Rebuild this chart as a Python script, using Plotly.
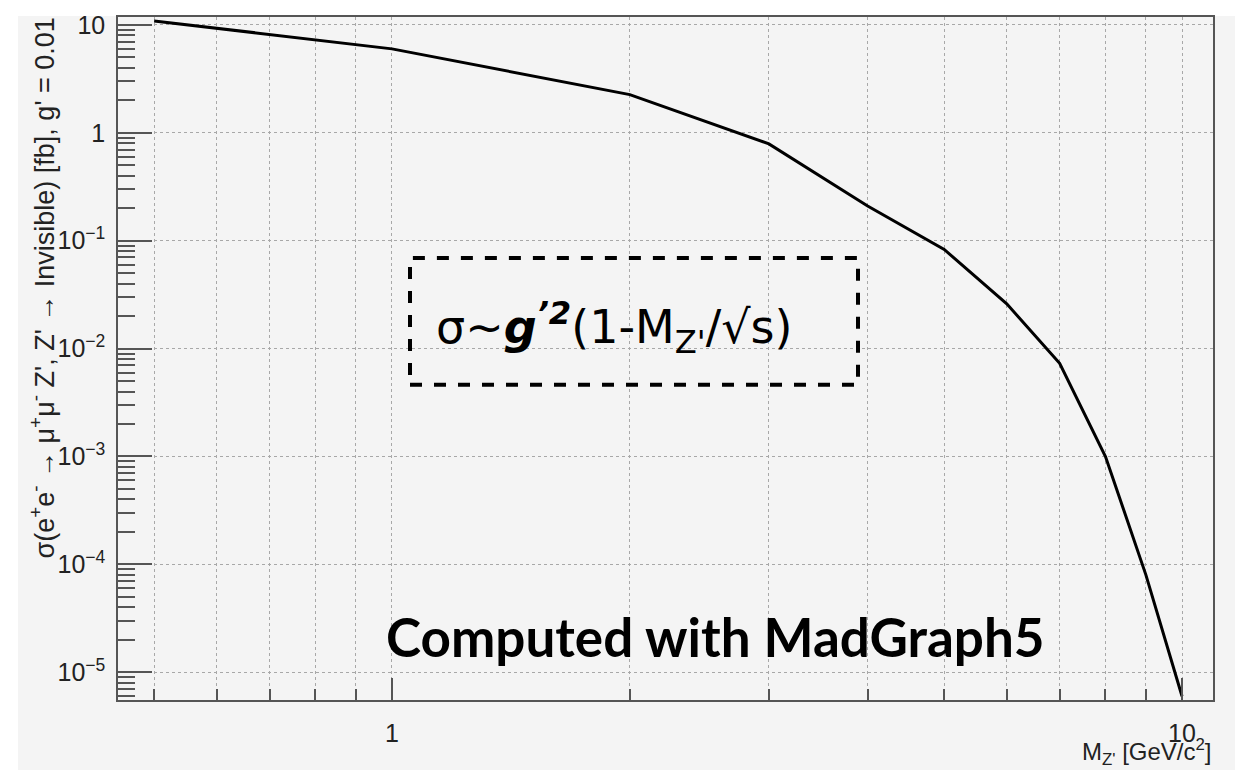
import plotly.graph_objects as go

# Z' mass points [GeV/c^2] and cross sections [fb]
mass = [0.5, 1, 2, 3, 4, 5, 6, 7, 8, 9, 10]
xsec = [10.9, 6.0, 2.26, 0.79, 0.21, 0.083, 0.026, 0.0073, 0.00100, 8.0e-5, 6.0e-6]

# axis ticks
x_major = [1, 10]
x_major_text = ["1", "10"]
x_minor = [0.5, 0.6, 0.7, 0.8, 0.9, 2, 3, 4, 5, 6, 7, 8, 9]
y_major = [1e-5, 1e-4, 1e-3, 1e-2, 1e-1, 1, 10]
y_major_text = ["10<sup>−5</sup>", "10<sup>−4</sup>", "10<sup>−3</sup>",
                "10<sup>−2</sup>", "10<sup>−1</sup>", "1", "10"]
y_minor = [k * 10.0 ** e for e in range(-6, 2) for k in range(2, 10)]

AXIS_FONT = "Liberation Sans, Arial, sans-serif"
FRAME = "#555555"
GRID = "#a8a8a8"

fig = go.Figure()
fig.add_trace(go.Scatter(x=mass, y=xsec, mode="lines",
                         line=dict(color="black", width=3), showlegend=False))

fig.update_xaxes(
    type="log", range=[-0.3468, 1.0392],
    tickmode="array", tickvals=x_major, ticktext=x_major_text,
    ticks="inside", ticklen=22, tickwidth=1.5, tickcolor=FRAME,
    showgrid=True, griddash="dot", gridcolor=GRID, gridwidth=1,
    showline=True, linecolor=FRAME, linewidth=1.5, mirror=True,
    zeroline=False, ticklabelstandoff=10,
    tickfont=dict(family=AXIS_FONT, size=25, color="#222"),
    minor=dict(tickvals=x_minor, ticks="inside", ticklen=11, tickwidth=1.5,
               tickcolor=FRAME, showgrid=True, griddash="dot",
               gridcolor=GRID, gridwidth=1),
)
fig.update_yaxes(
    type="log", range=[-5.257, 1.0735],
    tickmode="array", tickvals=y_major, ticktext=y_major_text,
    ticks="inside", ticklen=34, tickwidth=1.5, tickcolor=FRAME,
    showgrid=True, griddash="dot", gridcolor=GRID, gridwidth=1,
    showline=True, linecolor=FRAME, linewidth=1.5, mirror=True,
    zeroline=False, ticklabelstandoff=6,
    tickfont=dict(family=AXIS_FONT, size=25, color="#222"),
    minor=dict(tickvals=y_minor, ticks="inside", ticklen=17, tickwidth=1.5,
               tickcolor=FRAME, showgrid=False),
)

W, H = 1095, 689  # plot-area size in px


def px(xp):
    return (xp - 118) / W


def py(yp):
    return (700 - yp) / H


shapes = [
    # canvas background
    dict(type="rect", xref="paper", yref="paper", layer="below",
         x0=px(18), x1=px(1300), y0=py(800), y1=py(10),
         fillcolor="#f4f4f4", line=dict(width=0)),
    # dashed frame around the scaling formula
    dict(type="rect", xref="paper", yref="paper", layer="above",
         x0=px(410), x1=px(858), y0=py(382), y1=py(254),
         line=dict(color="black", width=4, dash="dash")),
]

annotations = [
    dict(text="σ(e<sup>+</sup>e<sup>-</sup> → μ<sup>+</sup>μ<sup>-</sup> Z', Z' → Invisible) [fb], g' = 0.01",
         xref="paper", yref="paper", x=px(42), y=py(10),
         xanchor="center", yanchor="top", textangle=-90, showarrow=False,
         font=dict(family=AXIS_FONT, size=27, color="#222")),
    dict(text="M<sub>Z'</sub> [GeV/c<sup>2</sup>]",
         xref="paper", yref="paper", x=px(1214), y=py(733),
         xanchor="right", yanchor="top", showarrow=False,
         font=dict(family=AXIS_FONT, size=24, color="#222")),
    dict(text="σ~<b><i>g</i></b><sup><b><i>’2</i></b></sup>(1-M<sub>Z'</sub>/√s)",
         xref="paper", yref="paper", x=px(434), y=py(324),
         xanchor="left", yanchor="middle", showarrow=False,
         font=dict(family="DejaVu Sans, sans-serif", size=46, color="black")),
    dict(text="<b>Computed with MadGraph5</b>",
         xref="paper", yref="paper", x=px(715), y=py(636),
         xanchor="center", yanchor="middle", showarrow=False,
         font=dict(family="Lato, sans-serif", size=53, color="black")),
]

fig.update_layout(
    width=1235, height=770,
    margin=dict(l=118, r=22, t=11, b=70),
    paper_bgcolor="white", plot_bgcolor="#f4f4f4",
    shapes=shapes, annotations=annotations, showlegend=False,
)

fig.write_html("out.html")
